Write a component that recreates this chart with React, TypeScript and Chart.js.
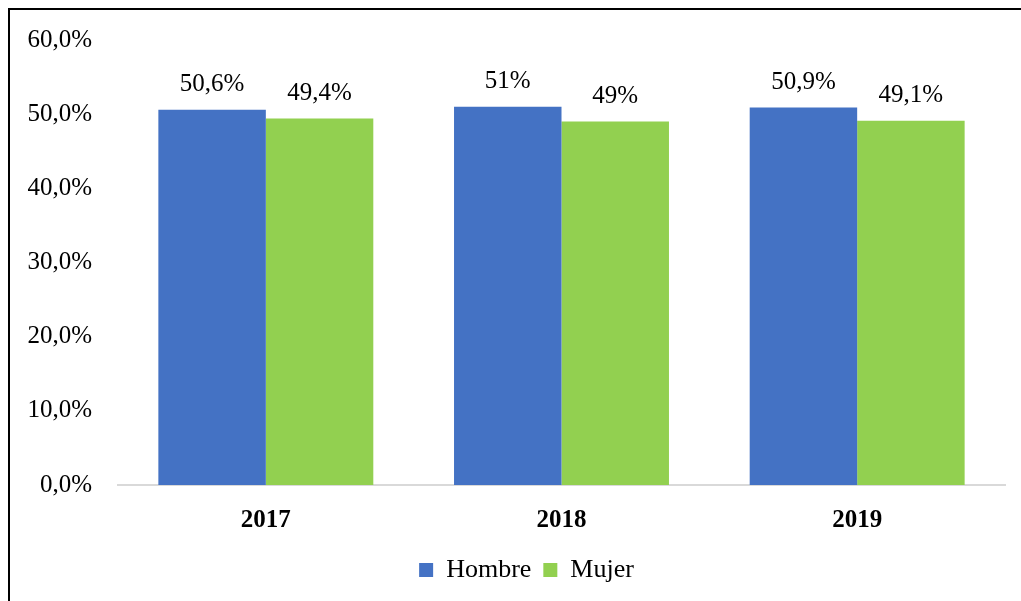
import React, { useEffect, useRef } from "react";
import { Chart, registerables } from "chart.js";

Chart.register(...registerables);

const categories = ["2017", "2018", "2019"];
const hombre = [50.6, 51, 50.9];
const mujer = [49.4, 49, 49.1];
const hombreLabels = ["50,6%", "51%", "50,9%"];
const mujerLabels = ["49,4%", "49%", "49,1%"];
const yTicks = [0, 10, 20, 30, 40, 50, 60];

const FONT = "'Liberation Serif', 'Times New Roman', serif";

const dataLabelPlugin = {
  id: "dataLabels",
  afterDatasetsDraw(chart: any) {
    const ctx = chart.ctx;
    const lbls = [hombreLabels, mujerLabels];
    ctx.save();
    ctx.font = `25px ${FONT}`;
    ctx.fillStyle = "#000";
    ctx.textAlign = "center";
    ctx.textBaseline = "middle";
    chart.data.datasets.forEach((_: any, di: number) => {
      const meta = chart.getDatasetMeta(di);
      meta.data.forEach((bar: any, i: number) => {
        ctx.fillText(lbls[di][i], bar.x, bar.y - 25);
      });
    });
    ctx.restore();
  },
};

const legendShiftPlugin = {
  id: "legendShift",
  afterLayout(chart: any) {
    if (chart.legend) {
      chart.legend.left += 24;
      chart.legend.right += 24;
    }
  },
};

export default function App() {
  const ref = useRef<HTMLCanvasElement>(null);
  useEffect(() => {
    if (!ref.current) return;
    const chart = new Chart(ref.current, {
      type: "bar",
      data: {
        labels: categories,
        datasets: [
          { label: "Hombre", data: hombre, backgroundColor: "#4472C4", borderWidth: 0 },
          { label: "Mujer", data: mujer, backgroundColor: "#92D050", borderWidth: 0 },
        ],
      },
      options: {
        animation: false,
        responsive: false,
        maintainAspectRatio: false,
        layout: { padding: { top: 40, right: 16, left: 0, bottom: 8 } },
        datasets: { bar: { categoryPercentage: 0.727, barPercentage: 1 } },
        scales: {
          x: {
            grid: { display: false },
            border: { display: true, color: "#D9D9D9", width: 2 },
            ticks: { color: "#000", font: { family: FONT, size: 25, weight: "bold" }, padding: 13 },
            afterFit: (s: any) => { s.height = 60; },
          },
          y: {
            min: 0,
            max: 60,
            grid: { display: false },
            border: { display: false },
            afterBuildTicks: (s: any) => { s.ticks = yTicks.map((v) => ({ value: v })); },
            ticks: {
              color: "#000",
              font: { family: FONT, size: 25 },
              padding: 18,
              callback: (v: any) => Number(v).toFixed(1).replace(".", ",") + "%",
            },
            afterFit: (s: any) => { s.width = 118; },
          },
        },
        plugins: {
          legend: {
            position: "bottom",
            labels: {
              color: "#000",
              font: { family: FONT, size: 26 },
              boxWidth: 14,
              boxHeight: 14,
              padding: 12,
            },
          },
          tooltip: { enabled: false },
        },
      },
      plugins: [dataLabelPlugin, legendShiftPlugin],
    });
    return () => chart.destroy();
  }, []);
  return (
    <div style={{ position: "fixed", left: 0, top: 0, width: 1021, height: 601, background: "#fff" }}>
      <canvas ref={ref} width={1021} height={601} style={{ position: "absolute", left: 0, top: 0 }} />
      <div
        style={{
          position: "absolute",
          left: 8,
          top: 8,
          width: 1100,
          height: 700,
          borderLeft: "2px solid #000",
          borderTop: "2px solid #000",
          pointerEvents: "none",
        }}
      />
    </div>
  );
}
